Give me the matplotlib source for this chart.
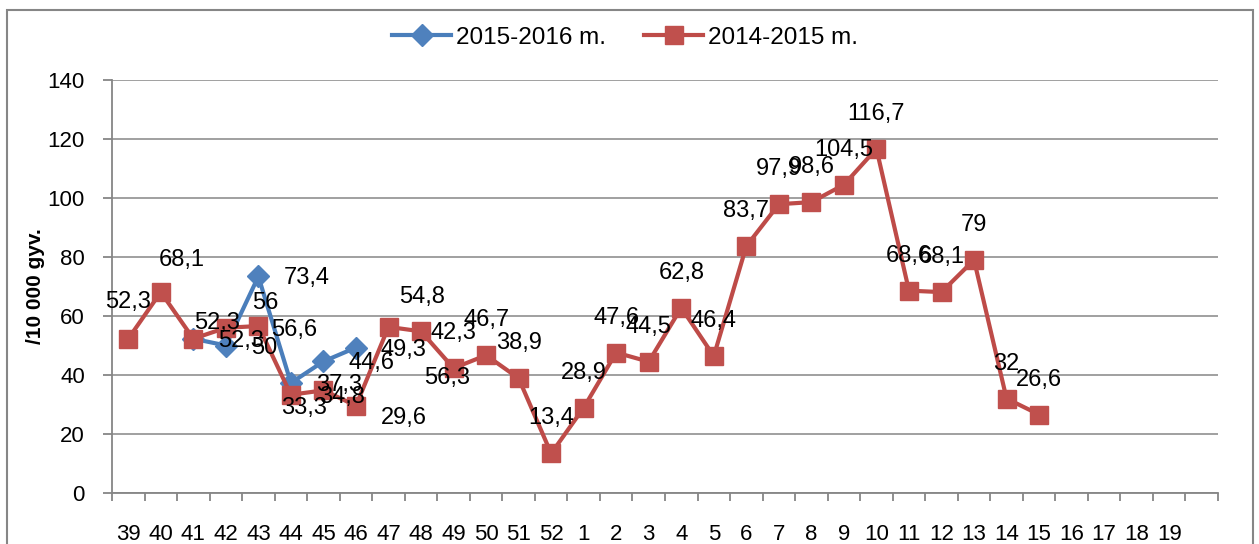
import numpy as np
import matplotlib
matplotlib.use("Agg")
import matplotlib.pyplot as plt
from matplotlib.patches import Rectangle

plt.rcParams['font.family'] = ['Liberation Sans', 'DejaVu Sans']

# week numbers on the x axis (one more empty slot after 19)
weeks = ['39', '40', '41', '42', '43', '44', '45', '46', '47', '48', '49', '50',
         '51', '52', '1', '2', '3', '4', '5', '6', '7', '8', '9', '10', '11',
         '12', '13', '14', '15', '16', '17', '18', '19']

# 2014-2015 season, weeks 39 .. 15
red_vals = [52.3, 68.1, 52.3, 56, 56.6, 33.3, 34.8, 29.6, 56.3, 54.8, 42.3,
            46.7, 38.9, 13.4, 28.9, 47.6, 44.5, 62.8, 46.4, 83.7, 97.9, 98.6,
            104.5, 116.7, 68.6, 68.1, 79, 32, 26.6]
# 2015-2016 season, weeks 41 .. 46
blue_start = 2
blue_vals = [52.3, 50, 73.4, 37.3, 44.6, 49.3]

blue_c = '#4A7EBB'
red_c = '#BE4B48'
grid_c = '#868686'

# label offsets in pixels (x right, y up) as placed in the original
red_offsets = [(0, 37), (21, 32), (24, 16), (39, 25), (36, -4), (13, -13),
               (19, -7), (48, -12), (59, -51), (1, 34)] + [(0, 35)] * 19


def fmt(v):
    return f"{v:g}".replace('.', ',')


fig = plt.figure(figsize=(12.59, 5.44), dpi=100)
ax = fig.add_axes([112 / 1259, 1 - 493 / 544, (1218 - 112) / 1259, (493 - 80) / 544])

x_red = np.arange(len(red_vals))
x_blue = np.arange(blue_start, blue_start + len(blue_vals))

ax.plot(x_blue, blue_vals, color=blue_c, lw=3, marker='D', ms=11,
        mfc='#4F81BD', mec='#4F81BD', zorder=3, label='2015-2016 m.')
ax.plot(x_red, red_vals, color=red_c, lw=3, marker='s', ms=13,
        mfc='#C0504D', mec='#C0504D', zorder=4, label='2014-2015 m.')

for xi, v, off in zip(x_red, red_vals, red_offsets):
    ax.annotate(fmt(v), (xi, v), xytext=off, textcoords='offset pixels',
                ha='center', va='center', fontsize=17, zorder=6)
for xi, v in zip(x_blue, blue_vals):
    ax.annotate(fmt(v), (xi, v), xytext=(25, -2), textcoords='offset pixels',
                ha='left', va='center', fontsize=17, zorder=6)

ax.set_xlim(-0.5, len(weeks) + 0.5)
ax.set_ylim(0, 140)
ax.set_yticks(np.arange(0, 141, 20))
ax.set_xticks(np.arange(len(weeks)))
ax.set_xticklabels(weeks)
ax.set_xticks(np.arange(-0.5, len(weeks) + 1), minor=True)

ax.grid(axis='y', color=grid_c, lw=1.1)
ax.set_axisbelow(True)
for s in ['top', 'right']:
    ax.spines[s].set_visible(False)
for s in ['left', 'bottom']:
    ax.spines[s].set_color(grid_c)
    ax.spines[s].set_linewidth(1.3)

ax.tick_params(axis='x', which='major', length=0, pad=22, labelsize=16)
ax.tick_params(axis='x', which='minor', length=6, width=1.3, color=grid_c)
ax.tick_params(axis='y', length=6.5, width=1.3, color=grid_c, pad=13, labelsize=16)

ax.set_ylabel('/10 000 gyv.', fontsize=15, fontweight='bold', labelpad=2)

fig.legend(loc='center', bbox_to_anchor=(625 / 1259, 1 - 38 / 544), ncol=2,
           frameon=False, fontsize=17.5, handlelength=2.4, handletextpad=0.2,
           columnspacing=1.6)

fig.patches.append(Rectangle((7 / 1259, -0.01), (1253 - 7) / 1259, 1 - 10 / 544 + 0.01,
                             transform=fig.transFigure, fill=False,
                             edgecolor=grid_c, lw=1.5))

fig.savefig('out.png', dpi=100)
